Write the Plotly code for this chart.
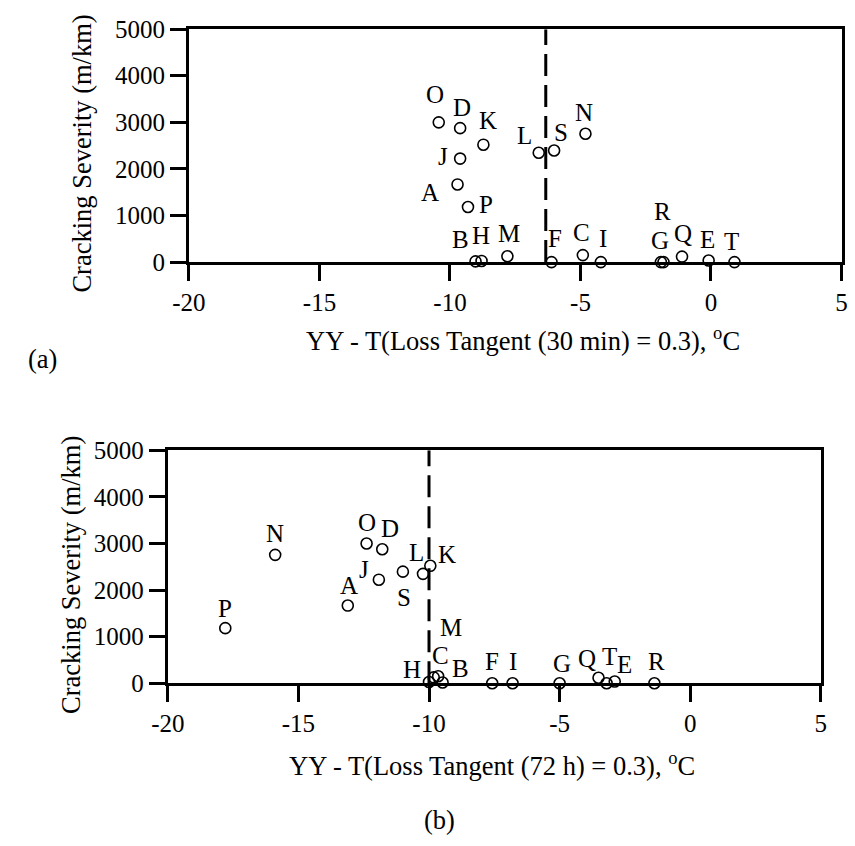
import plotly.graph_objects as go

W, H = 855, 846

# ---- data ----
sections = ["A", "B", "C", "D", "E", "F", "G", "H", "I", "J",
            "K", "L", "M", "N", "O", "P", "Q", "R", "S", "T"]
severity = [1667, 15, 150, 2875, 35, 0, 0, 25, 0, 2222,
            2520, 2347, 125, 2755, 3000, 1182, 117, 0, 2395, 0]
x_30min = [-9.71, -9.02, -4.91, -9.61, -0.09, -6.11, -1.92, -8.79, -4.22, -9.61,
           -8.72, -6.60, -7.80, -4.81, -10.43, -9.31, -1.11, -1.82, -6.01, 0.90]
x_72h = [-13.11, -9.48, -9.65, -11.79, -2.89, -7.58, -5.00, -10.00, -6.80, -11.92,
         -9.95, -10.23, -9.82, -15.89, -12.39, -17.80, -3.51, -1.37, -11.00, -3.20]
threshold_30min = -6.33
threshold_72h = -10.0
x_ticks = [-20, -15, -10, -5, 0, 5]
x_ticktext = ["-20", "-15", "-10", "-5", "0", "5"]
y_ticks = [0, 1000, 2000, 3000, 4000, 5000]
y_ticktext = ["0", "1000", "2000", "3000", "4000", "5000"]

# ---- label placement (pixel offsets: right, down) ----
off_a = {"A": (-28, 8), "B": (-15, -22), "C": (-1, -23), "D": (2, -21), "E": (-1, -21),
         "F": (3, -24), "G": (-1, -22), "H": (-1, -25), "I": (2, -24), "J": (-17, -2),
         "K": (5, -24), "L": (-14, -17), "M": (2, -23), "N": (-1, -21), "O": (-4, -28),
         "P": (18, -3), "Q": (1, -23), "R": (-1, -51), "S": (7, -18), "T": (-3, -21)}
off_b = {"A": (1, -20), "B": (18, -14), "C": (2, -21), "D": (8, -21), "E": (10, -17),
         "F": (0, -22), "G": (2, -20), "H": (-17, -13), "I": (0, -22), "J": (-15, -10),
         "K": (17, -11), "L": (-7, -21), "M": (17, -50), "N": (0, -21), "O": (0, -21),
         "P": (0, -20), "Q": (-12, -19), "R": (2, -22), "S": (1, 26), "T": (3, -27)}

FONT = "Liberation Serif, Times New Roman, serif"
FS = 25
FS_TITLE = 26.5

fig = go.Figure()

marker = dict(symbol="circle-open", size=11, color="black", line=dict(width=1.6, color="black"))
fig.add_trace(go.Scatter(x=x_30min, y=severity, mode="markers", marker=marker,
                         xaxis="x", yaxis="y", cliponaxis=False, showlegend=False))
fig.add_trace(go.Scatter(x=x_72h, y=severity, mode="markers", marker=marker,
                         xaxis="x2", yaxis="y2", cliponaxis=False, showlegend=False))

# dashed threshold lines
fig.add_trace(go.Scatter(x=[threshold_30min, threshold_30min], y=[0, 5000], mode="lines",
                         line=dict(color="black", width=3, dash="22px,9px"),
                         xaxis="x", yaxis="y", showlegend=False, hoverinfo="skip"))
fig.add_trace(go.Scatter(x=[threshold_72h, threshold_72h], y=[0, 5000], mode="lines",
                         line=dict(color="black", width=3, dash="22px,9px"),
                         xaxis="x2", yaxis="y2", showlegend=False, hoverinfo="skip"))

annotations = []
for xs, offs, xr, yr in [(x_30min, off_a, "x", "y"), (x_72h, off_b, "x2", "y2")]:
    for s, xv, yv in zip(sections, xs, severity):
        dx, dy = offs[s]
        annotations.append(dict(x=xv, y=yv, xref=xr, yref=yr, text=s, showarrow=False,
                                xshift=dx, yshift=-dy, font=dict(family=FONT, size=FS, color="black")))


def paper(px, py):
    return px / W, 1 - py / H


def txt(text, px, py, angle=0, size=FS_TITLE):
    x, y = paper(px, py)
    annotations.append(dict(x=x, y=y, xref="paper", yref="paper", text=text, showarrow=False,
                            textangle=angle, xanchor="center", yanchor="middle",
                            font=dict(family=FONT, size=size, color="black")))


txt("Cracking Severity (m/km)", 67, 145, -90)
txt("Cracking Severity (m/km)", 56, 580, -90)
txt("YY - T(Loss Tangent (30 min) = 0.3), <sup>o</sup>C", 520, 337)
txt("YY - T(Loss Tangent (72 h) = 0.3), <sup>o</sup>C", 488, 776)
txt("(a)", 26, 357)
txt("(b)", 434, 834)

axis_common = dict(showgrid=False, zeroline=False, showline=True, linecolor="black", linewidth=3,
                   mirror=True, ticks="outside", ticklen=16, tickwidth=3, tickcolor="black",
                   tickfont=dict(family=FONT, size=FS, color="black"))

fig.update_layout(
    width=W, height=H, margin=dict(l=0, r=0, t=0, b=0),
    paper_bgcolor="white", plot_bgcolor="white",
    xaxis=dict(domain=[176.7 / W, 847.3 / W], range=[-20, 5], tickvals=x_ticks, ticktext=x_ticktext,
               anchor="y", **axis_common),
    yaxis=dict(domain=[1 - 257.3 / H, 1 - 16.7 / H], range=[0, 5000], tickvals=y_ticks, ticktext=y_ticktext,
               anchor="x", **axis_common),
    xaxis2=dict(domain=[155 / W, 826 / W], range=[-20, 5], tickvals=x_ticks, ticktext=x_ticktext,
                anchor="y2", **axis_common),
    yaxis2=dict(domain=[1 - 692.3 / H, 1 - 451.7 / H], range=[0, 5000], tickvals=y_ticks, ticktext=y_ticktext,
                anchor="x2", **axis_common),
    annotations=annotations,
    showlegend=False,
)

fig.write_html("out.html")
